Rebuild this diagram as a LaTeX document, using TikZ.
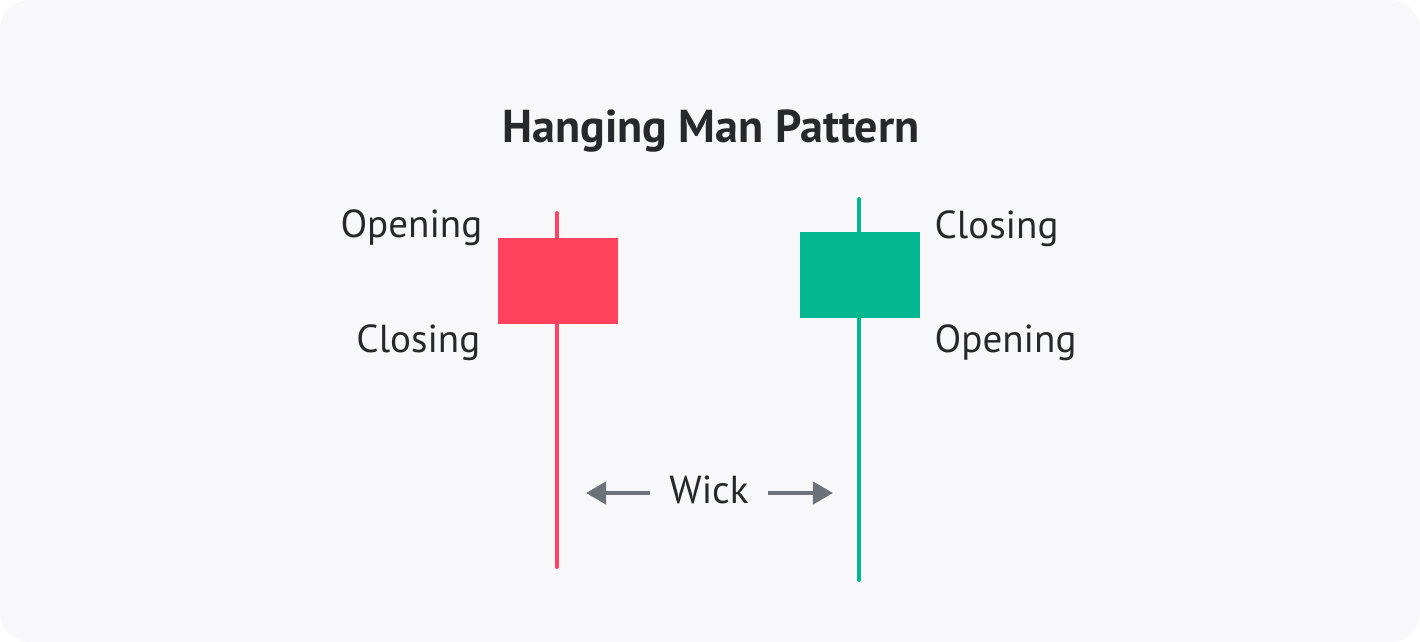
\documentclass[tikz,border=0pt]{standalone}
\usepackage{fontspec}
\setmainfont{PT Sans}
\usetikzlibrary{arrows.meta,positioning}
\definecolor{bgpanel}{RGB}{248,248,250}
\definecolor{candlered}{RGB}{255,66,94}
\definecolor{candlegreen}{RGB}{2,183,143}
\definecolor{textdark}{RGB}{38,40,44}
\definecolor{arrowgray}{RGB}{108,113,122}
\tikzset{
  title/.style={font=\bfseries\fontsize{13.1}{16}\selectfont, text=textdark, inner sep=0pt},
  label/.style={font=\fontsize{11.1}{13}\selectfont, text=textdark, inner sep=0pt},
  redbody/.style={fill=candlered, minimum width=1.2cm, minimum height=0.86cm, inner sep=0pt},
  greenbody/.style={fill=candlegreen, minimum width=1.2cm, minimum height=0.86cm, inner sep=0pt},
  redwick/.style={draw=candlered, line width=1.15pt, line cap=round},
  greenwick/.style={draw=candlegreen, line width=1.15pt, line cap=round},
  wickarrow/.style={draw=arrowgray, line width=1.2pt, -{Triangle[length=2mm, width=2.2mm]}},
}

\begin{document}
\begin{tikzpicture}[x=0.01cm, y=-0.01cm]
% panel
\fill[white] (0,0) rectangle (1420,642);
\fill[bgpanel, rounded corners=0.3cm] (0,0) rectangle (1420,642);
\useasboundingbox (0,0) rectangle (1420,642);

% title
\node[title, anchor=base] (head) at (711,142) {Hanging Man Pattern};

% bearish candle
\coordinate (rtop) at (557,213);
\coordinate (rbot) at (557,567);
\draw[redwick] (rtop) -- (rbot);
\node[redbody] (rbox) at (558,281) {};
\node[label, anchor=base east] (ropen) at (483,237) {Opening};
\node[label, anchor=base east] (rclose) at (481,352) {Closing};

% bullish candle
\coordinate (gtop) at (859,199);
\coordinate (gbot) at (859,580);
\draw[greenwick] (gtop) -- (gbot);
\node[greenbody] (gbox) at (860,275) {};
\node[label, anchor=base west] (gclose) at (934,238) {Closing};
\node[label, anchor=base west] (gopen) at (934,352) {Opening};

% wick label
\node[label, anchor=base, inner xsep=0.19cm] (wick) at (709,503) {Wick};
\coordinate (ltip) at (586,493);
\coordinate (rtip) at (833,493);
\draw[wickarrow] (wick.west |- ltip) -- (ltip);
\draw[wickarrow] (wick.east |- rtip) -- (rtip);
\end{tikzpicture}
\end{document}
